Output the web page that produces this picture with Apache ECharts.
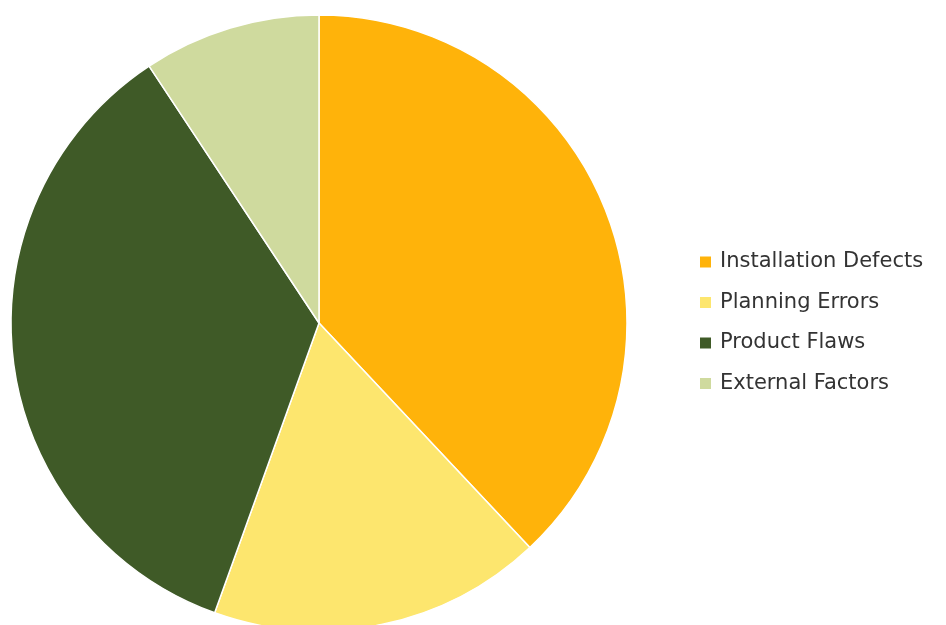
<!DOCTYPE html>
<html>
<head>
<meta charset="utf-8">
<script src="https://cdn.jsdelivr.net/npm/echarts@6/dist/echarts.min.js"></script>
<style>
  html, body { margin: 0; padding: 0; background: #fff; }
  #chart { width: 946px; height: 625px; }
</style>
</head>
<body>
<div id="chart"></div>
<script>
// causes of defects, share in %
const categories = ['Installation Defects', 'Planning Errors', 'Product Flaws', 'External Factors'];
const values = [38, 17.5, 35.2, 9.3];
const colors = ['#FFB30A', '#FDE66E', '#3F5A27', '#CFDA9E'];

const chart = echarts.init(document.getElementById('chart'));

chart.setOption({
    animation: false,
    color: colors,
    legend: {
        orient: 'vertical',
        left: 693,
        top: 245,
        itemWidth: 13,
        itemHeight: 13,
        itemGap: 16.5,
        icon: 'rect',
        textStyle: {
            fontFamily: 'DejaVu Sans',
            fontSize: 21,
            lineHeight: 24,
            padding: [0, 0, 0, 3],
            color: '#333'
        },
        data: categories
    },
    series: [
        {
            type: 'pie',
            center: [319, 323],
            radius: 308,
            startAngle: 90,
            clockwise: true,
            label: { show: false },
            labelLine: { show: false },
            itemStyle: {
                borderColor: '#fff',
                borderWidth: 1.5
            },
            data: categories.map((name, i) => ({ name: name, value: values[i] }))
        }
    ]
});
</script>
</body>
</html>
